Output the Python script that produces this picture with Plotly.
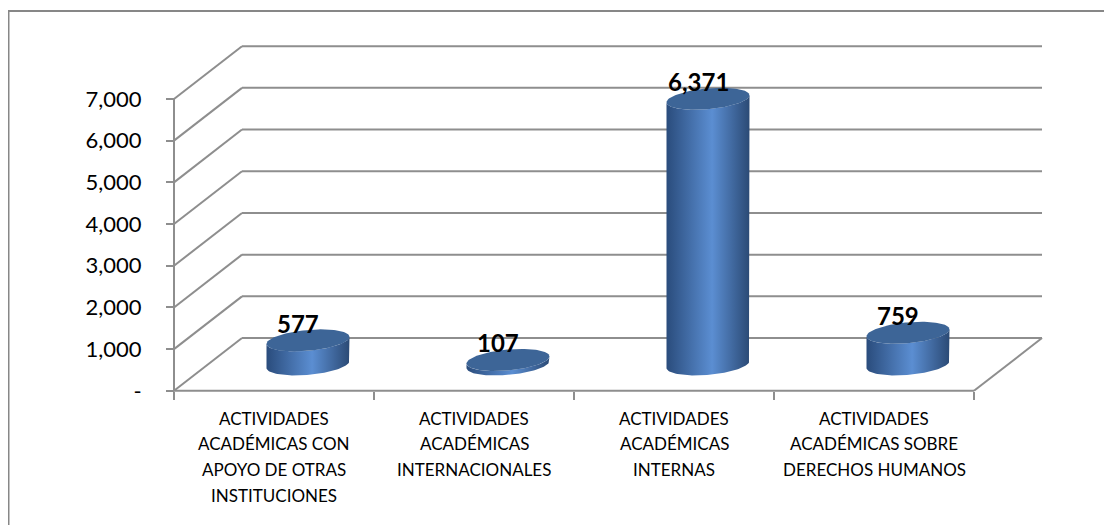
import numpy as np
import plotly.graph_objects as go

# ---- data ----
categories = [
    ["ACTIVIDADES", "ACADÉMICAS CON", "APOYO DE OTRAS", "INSTITUCIONES"],
    ["ACTIVIDADES", "ACADÉMICAS", "INTERNACIONALES"],
    ["ACTIVIDADES", "ACADÉMICAS", "INTERNAS"],
    ["ACTIVIDADES", "ACADÉMICAS SOBRE", "DERECHOS HUMANOS"],
]
values = [577, 107, 6371, 759]
tick_values = [0, 1000, 2000, 3000, 4000, 5000, 6000, 7000]
tick_labels = ["-", "1,000", "2,000", "3,000", "4,000", "5,000", "6,000", "7,000"]

# ---- geometry ----
W, H = 1112, 525
OFF = 8                   # page body margin
PX_PER_X = 200.0
PX_PER_Y = 41.63 / 1000
DX = 0.34
DY = 1266
PADX, PADY = 0.02, 100
RX = 0.2075
RY = 250
SHEAR = 85

xr = [-0.5 - PADX, 3.5 + DX + PADX]
yr = [-PADY, 7000 + DY + PADY]
plot_w = (xr[1] - xr[0]) * PX_PER_X
plot_h = (yr[1] - yr[0]) * PX_PER_Y
ml = 174 - OFF - PADX * PX_PER_X
mb = H - (390.7 - OFF) - PADY * PX_PER_Y
mr = W - ml - plot_w
mt = H - mb - plot_h

def px_x(px):
    # page pixel -> paper x
    return (px - OFF - ml) / plot_w

def px_y(py):
    return ((H - mb) - (py - OFF)) / plot_h

FONT = "Lato"
GRID = "#8E8E8E"

fig = go.Figure()

shapes = []
def seg(x0, y0, x1, y1, w=2, c=GRID):
    shapes.append(dict(type="line", xref="x", yref="y", x0=x0, y0=y0, x1=x1, y1=y1,
                       line=dict(color=c, width=w), layer="below"))

for v in tick_values:
    seg(-0.5, v, -0.5 + DX, v + DY)
    seg(-0.5 + DX, v + DY, 3.5 + DX, v + DY)
seg(-0.5, 0, 3.5, 0)
seg(3.5, 0, 3.5 + DX, DY)
seg(-0.5, 0, -0.5, tick_values[-1])

shapes.append(dict(type="line", xref="paper", yref="paper",
                   x0=px_x(8.5), y0=px_y(11), x1=px_x(8.5), y1=px_y(540),
                   line=dict(color="#878787", width=2)))
shapes.append(dict(type="line", xref="paper", yref="paper",
                   x0=px_x(8), y0=px_y(11.5), x1=px_x(1130), y1=px_y(11.5),
                   line=dict(color="#878787", width=2)))

def shear(x, y, cx):
    return y + SHEAR * (x - cx) / RX

annotations = []
for i, v in enumerate(values):
    cx = i + DX / 2
    base = DY / 2
    top = base + v
    t1 = np.linspace(np.pi, 0, 60)
    t2 = np.linspace(0, np.pi, 60)
    xs = np.concatenate([[cx - RX, cx - RX], cx + RX * np.cos(t1), [cx + RX, cx + RX], cx + RX * np.cos(t2)])
    ys = np.concatenate([[base, top], top - RY * np.sin(t1), [top, base], base - RY * np.sin(t2)])
    ys = shear(xs, ys, cx)
    fig.add_trace(go.Scatter(
        x=xs, y=ys, mode="lines", line=dict(width=0), fill="toself",
        fillgradient=dict(type="horizontal",
                          colorscale=[[0, "#2A4C7C"], [0.55, "#5B8ED2"], [1, "#2B4A75"]]),
        hoverinfo="skip", showlegend=False))
    tt = np.linspace(0, 2 * np.pi, 120)
    ex = cx + RX * np.cos(tt)
    ey = shear(ex, top + RY * np.sin(tt), cx)
    fig.add_trace(go.Scatter(
        x=ex, y=ey, mode="lines", line=dict(width=0), fill="toself",
        fillcolor="#3D6597", hoverinfo="skip", showlegend=False))
    annotations.append(dict(x=cx, y=top, xref="x", yref="y", text=f"<b>{v:,}</b>",
                            showarrow=False, xshift=-10, yshift=17,
                            font=dict(family=FONT, size=24, color="#000000")))

# category labels, one annotation per line
LINE0, LINE_STEP = 418, 25.6
for i, lines in enumerate(categories):
    for j, txt in enumerate(lines):
        annotations.append(dict(x=i, xref="x", y=px_y(LINE0 + j * LINE_STEP), yref="paper",
                                text=txt, showarrow=False, xanchor="center", yanchor="middle",
                                font=dict(family=FONT, size=17, color="#000000")))

fig.update_layout(
    width=W, height=H,
    margin=dict(l=ml, r=mr, t=mt, b=mb, pad=0),
    paper_bgcolor="white", plot_bgcolor="white",
    shapes=shapes, annotations=annotations,
    showlegend=False,
    xaxis=dict(range=xr, showgrid=False, zeroline=False, showline=False,
               tickmode="array", tickvals=[-0.5, 0.5, 1.5, 2.5, 3.5],
               showticklabels=False,
               ticks="outside", ticklen=8, tickwidth=2, tickcolor=GRID,
               anchor="free", position=px_y(390.7),
               fixedrange=True),
    yaxis=dict(range=yr, showgrid=False, zeroline=False, showline=False,
               tickmode="array", tickvals=tick_values, ticktext=tick_labels,
               ticks="outside", ticklen=8, tickwidth=2, tickcolor=GRID,
               anchor="free", position=px_x(174),
               ticklabelstandoff=20,
               tickfont=dict(family=FONT, size=22, color="#000000"),
               fixedrange=True),
)

fig.write_html("out.html")
